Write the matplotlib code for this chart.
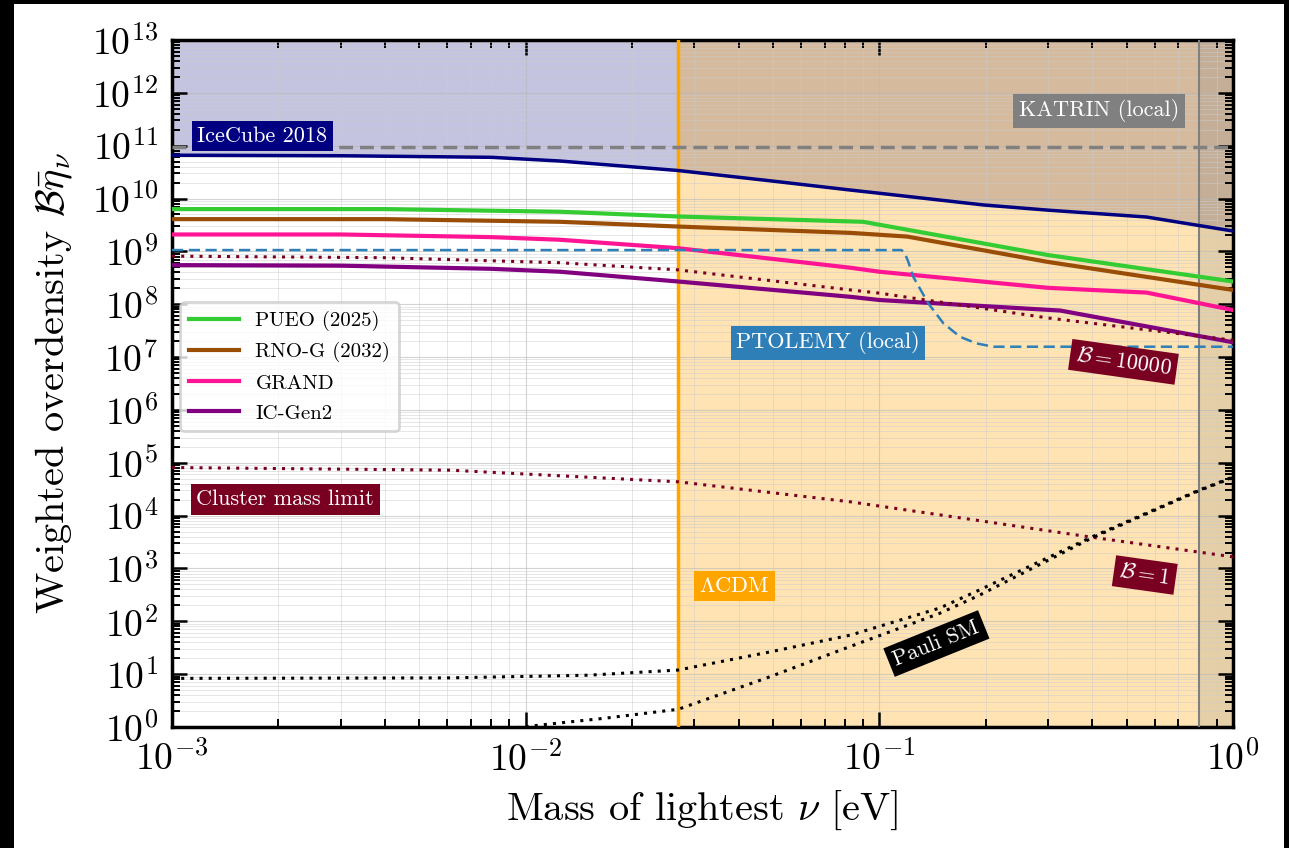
import matplotlib
matplotlib.use('Agg')
import matplotlib.pyplot as plt
import numpy as np
from matplotlib.patches import Rectangle
from matplotlib.ticker import LogLocator, FuncFormatter, NullFormatter

plt.rcParams['font.family'] = 'serif'
plt.rcParams['font.serif'] = ['cmr10']
plt.rcParams['mathtext.fontset'] = 'cm'
plt.rcParams['axes.unicode_minus'] = False

# values (mass in eV, density as log10)
mass_ice = [1e-3, 3e-3, 8e-3, 0.0125, 0.027, 0.05, 0.083, 0.1, 0.196, 0.30, 0.57, 1.0]
ice_log = [10.82, 10.81, 10.78, 10.71, 10.53, 10.33, 10.16, 10.10, 9.88, 9.78, 9.65, 9.385]

mass_pueo = [1e-3, 4e-3, 0.0125, 0.027, 0.09, 0.30, 1.0]
pueo_log = [9.80, 9.80, 9.75, 9.66, 9.56, 8.93, 8.43]

mass_rno = [1e-3, 4e-3, 0.0125, 0.027, 0.083, 0.12, 0.30, 1.0]
rno_log = [9.61, 9.61, 9.56, 9.47, 9.35, 9.28, 8.80, 8.27]

mass_grand = [1e-3, 3e-3, 8e-3, 0.0125, 0.027, 0.083, 0.1, 0.30, 0.57, 1.0]
grand_log = [9.32, 9.32, 9.27, 9.22, 9.06, 8.69, 8.615, 8.31, 8.22, 7.89]

mass_gen2 = [1e-3, 3e-3, 8e-3, 0.0125, 0.027, 0.083, 0.1, 0.325, 1.0]
gen2_log = [8.74, 8.73, 8.67, 8.615, 8.43, 8.14, 8.08, 7.88, 7.28]

mass_ptolemy = [1e-3, 0.1156, 0.1181, 0.1208, 0.1247, 0.1374, 0.1517, 0.169, 0.188, 0.21, 1.0]
ptolemy_log = [9.025, 9.025, 8.96, 8.80, 8.52, 8.02, 7.64, 7.385, 7.26, 7.196, 7.196]

mass_b4 = [1e-3, 4e-3, 0.0125, 0.027, 0.083, 0.1, 0.30, 1.0]
b4_log = [8.91, 8.88, 8.785, 8.65, 8.27, 8.21, 7.74, 7.32]

mass_b1 = [1e-3, 6.1e-3, 0.027, 0.083, 0.185, 0.40, 1.0]
b1_log = [4.91, 4.86, 4.64, 4.26, 3.92, 3.59, 3.22]

mass_pauli_hi = [1e-3, 6.1e-3, 0.015, 0.027, 0.049, 0.083, 0.148, 0.19, 0.40, 0.80, 1.0]
pauli_hi_log = [0.92, 0.93, 0.98, 1.078, 1.42, 1.74, 2.25, 2.58, 3.60, 4.48, 4.73]

mass_pauli_lo = [0.007, 0.0095, 0.0106, 0.0122, 0.0167, 0.027, 0.049, 0.078, 0.148, 0.19, 0.40, 0.80, 1.0]
pauli_lo_log = [-0.1, -0.01, 0.025, 0.07, 0.165, 0.335, 0.95, 1.46, 2.15, 2.48, 3.58, 4.47, 4.72]

katrin_density = 9.5e10
katrin_mass = 0.8
lcdm_mass = 0.027

def dens(v):
    return 10 ** np.array(v)

fig = plt.figure(figsize=(12.89, 8.48), dpi=100)
fig.patch.set_facecolor('black')
fig.add_artist(Rectangle((14 / 1289, 0), 1270 / 1289, 844 / 848, transform=fig.transFigure,
                         facecolor='white', edgecolor='none', zorder=-10))
ax = fig.add_axes([172 / 1289, 1 - 727 / 848, 1061 / 1289, 687 / 848])
ax.set_xscale('log')
ax.set_yscale('log')
ax.set_xlim(1e-3, 1)
ax.set_ylim(1, 1e13)

# shaded regions
ax.fill_between(mass_ice, dens(ice_log), 1e13, color='navy', alpha=0.23, lw=0, zorder=1)
ax.axvspan(lcdm_mass, 1, color='orange', alpha=0.3, lw=0, zorder=1.1)
ax.axvspan(katrin_mass, 1, color='grey', alpha=0.2, lw=0, zorder=1.2)
ax.axvline(lcdm_mass, color='orange', lw=2.5, zorder=3)
ax.axvline(katrin_mass, color='grey', lw=1.5, zorder=3)
ax.axhline(katrin_density, color='grey', ls='--', lw=2.5, dashes=(4, 2), zorder=3)

ax.plot(mass_ice, dens(ice_log), color='navy', lw=2.5, zorder=4)
ax.plot(mass_pueo, dens(pueo_log), color='#33cc33', lw=3, label='PUEO (2025)', zorder=4)
ax.plot(mass_rno, dens(rno_log), color='#9a4d07', lw=3, label='RNO-G (2032)', zorder=4)
ax.plot(mass_grand, dens(grand_log), color='#ff1493', lw=3, label='GRAND', zorder=4)
ax.plot(mass_gen2, dens(gen2_log), color='#800080', lw=3, label='IC-Gen2', zorder=4)
ax.plot(mass_ptolemy, dens(ptolemy_log), color='#2e7fb8', lw=1.8, ls='--', dashes=(4.5, 2.2), zorder=4)
ax.plot(mass_b4, dens(b4_log), color='#7a0022', lw=2.2, ls=':', dashes=(1, 2), zorder=4)
ax.plot(mass_b1, dens(b1_log), color='#7a0022', lw=2.2, ls=':', dashes=(1, 2), zorder=4)
ax.plot(mass_pauli_hi, dens(pauli_hi_log), color='black', lw=2.2, ls=':', dashes=(1, 2), zorder=4)
ax.plot(mass_pauli_lo, dens(pauli_lo_log), color='black', lw=2.2, ls=':', dashes=(1, 2), zorder=4)

# labels in boxes
box = dict(boxstyle='square,pad=0.25', edgecolor='none')
fs = 16
ax.text(1.8e-3, 10 ** 11.18, 'IceCube 2018', color='white', fontsize=fs, ha='center', va='center',
        bbox=dict(box, facecolor='navy'), zorder=6)
ax.text(0.418, 10 ** 11.66, 'KATRIN (local)', color='white', fontsize=fs, ha='center', va='center',
        bbox=dict(box, facecolor='grey'), zorder=6)
ax.text(0.0716, 10 ** 7.27, 'PTOLEMY (local)', color='white', fontsize=fs, ha='center', va='center',
        bbox=dict(box, facecolor='#2e7fb8'), zorder=6)
ax.text(0.49, 10 ** 6.91, r'$\mathcal{B}=10000$', color='white', fontsize=fs, ha='center', va='center',
        rotation=-8, rotation_mode='anchor', bbox=dict(box, facecolor='#7a0022'), zorder=6)
ax.text(2.09e-3, 10 ** 4.31, 'Cluster mass limit', color='white', fontsize=fs, ha='center', va='center',
        bbox=dict(box, facecolor='#7a0022'), zorder=6)
ax.text(0.0389, 10 ** 2.67, r'$\Lambda$CDM', color='white', fontsize=fs, ha='center', va='center',
        bbox=dict(box, facecolor='orange'), zorder=6)
ax.text(0.563, 10 ** 2.876, r'$\mathcal{B}=1$', color='white', fontsize=fs, ha='center', va='center',
        rotation=-8, rotation_mode='anchor', bbox=dict(box, facecolor='#7a0022'), zorder=6)
ax.text(0.145, 10 ** 1.58, 'Pauli SM', color='white', fontsize=fs, ha='center', va='center',
        rotation=22, rotation_mode='anchor', bbox=dict(box, facecolor='black'), zorder=6)

leg = ax.legend(loc='upper left', bbox_to_anchor=(0.008, 0.618), borderaxespad=0, fontsize=15,
                handlelength=2.4, labelspacing=0.55, fancybox=True, framealpha=0.8, edgecolor='0.8')
leg.get_frame().set_linewidth(2)
leg.set_zorder(7)

# axes, ticks, grid
ax.xaxis.set_major_locator(LogLocator(base=10, numticks=20))
ax.xaxis.set_minor_locator(LogLocator(base=10, subs=np.arange(2, 10), numticks=100))
ax.yaxis.set_major_locator(LogLocator(base=10, numticks=20))
ax.yaxis.set_minor_locator(LogLocator(base=10, subs=np.arange(2, 10), numticks=200))
fmt = FuncFormatter(lambda v, p: r'$10^{%d}$' % round(np.log10(v)))
ax.xaxis.set_major_formatter(fmt)
ax.yaxis.set_major_formatter(fmt)
ax.xaxis.set_minor_formatter(NullFormatter())
ax.yaxis.set_minor_formatter(NullFormatter())
ax.tick_params(which='both', direction='in', top=True, right=True, labelsize=27)
ax.tick_params(which='major', length=11, width=1.8, pad=10)
ax.tick_params(which='minor', length=5.5, width=1.4)
for s in ax.spines.values():
    s.set_linewidth(2.5)
ax.grid(True, which='major', color='0.72', lw=0.8, alpha=0.6)
ax.grid(True, which='minor', color='0.8', lw=0.7, alpha=0.5)

ax.set_xlabel(r'Mass of lightest $\nu$ [eV]', fontsize=29, labelpad=8)
ax.set_ylabel(r'Weighted overdensity $\mathcal{B}\bar{\eta}_\nu$', fontsize=29, labelpad=12)

fig.savefig('out.png', dpi=100, facecolor=fig.get_facecolor())
